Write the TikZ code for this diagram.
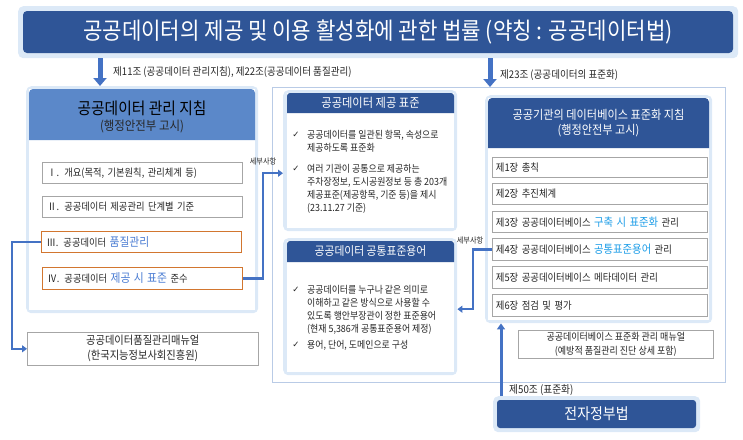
\documentclass[tikz,border=0pt]{standalone}
\usepackage{fontspec}
\setmainfont[FakeStretch=0.9]{Noto Sans CJK KR}
\newfontfamily\chkfont{DejaVu Sans}
\usetikzlibrary{arrows.meta,calc}
\definecolor{dk}{HTML}{2F5597}
\definecolor{lh}{HTML}{5B88C9}
\definecolor{glow}{HTML}{DCE9F7}
\definecolor{arr}{HTML}{4472C4}
\definecolor{org}{HTML}{D2762F}
\definecolor{gry}{HTML}{A6A6A6}
\definecolor{contc}{HTML}{B9CBE6}
\definecolor{hl}{HTML}{4A7CD3}
\definecolor{hc}{HTML}{1C9DE8}
\definecolor{txt}{HTML}{262626}
\newcommand\fsz[2]{\fontsize{#1}{#2}\selectfont}
\tikzset{
  glowbox/.style={fill=glow, rounded corners=5pt, inner sep=0pt, anchor=north west},
  itembox/.style={draw=gry, fill=white, line width=0.8pt, anchor=north west, inner xsep=5pt, inner ysep=0pt,
    minimum height=21pt, text width=#1, align=left, font=\fsz{10.3}{12}, text=txt},
  ritem/.style={itembox=#1, inner xsep=3.5pt, font=\fsz{10.4}{12}},
  manbox/.style={draw=gry, fill=white, line width=0.6pt, anchor=north west, inner sep=0pt, align=center, text=txt},
  bul/.style={anchor=north west, align=left, inner sep=0pt, font=\fsz{9.9}{13}, text=txt},
  chk/.style={inner sep=0pt, font=\chkfont\fsz{8.5}{10}, text=txt},
  lbl/.style={inner sep=0pt, font=\fsz{10.6}{12}, text=txt},
  smalllbl/.style={inner sep=0pt, font=\fsz{8}{10}, text=txt},
  bigarr/.style={draw=arr, line width=5pt, -{Triangle[width=13pt,length=8pt]}},
  conn/.style={draw=arr, line width=2.5pt, -{Triangle[width=7pt,length=5pt]}},
  uparr/.style={draw=arr, line width=3pt, -{Triangle[width=8pt,length=6pt]}},
}
\begin{document}
\begin{tikzpicture}[x=1pt,y=-1pt]
\useasboundingbox (0,0) rectangle (743,439);
% banner
\node[glowbox, minimum width=720pt, minimum height=52pt] (banner) at (18,6) {};
\fill[dk, rounded corners=4pt] (23,11) rectangle (733,53);
\node[text=white, font=\fsz{23.5}{26}] (title) at (378,32) {공공데이터의 제공 및 이용 활성화에 관한 법률 (약칭 : 공공데이터법)};
% container
\node[draw=contc, line width=0.8pt, minimum width=453pt, minimum height=295pt, anchor=north west, inner sep=0pt] (cont) at (272,87) {};
% left box
\node[glowbox, minimum width=232pt, minimum height=227pt] (lbox) at (26,86) {};
\fill[white] (29,89) rectangle (255,310);
\fill[lh] (29,140) [rounded corners=4pt] -- (29,89) -- (255,89) [sharp corners] -- (255,140) -- cycle;
\node[font=\fsz{16.4}{18}, text=black] (lhead) at (142,108) {공공데이터 관리 지침};
\node[font=\fsz{12.7}{14}, text=txt] (lsub) at (142,126) {(행정안전부 고시)};
\node[itembox=190pt] (li1) at (42,162) {Ⅰ. 개요(목적, 기본원칙, 관리체계 등)};
\node[itembox=190pt] (li2) at (42,196) {Ⅱ. 공공데이터 제공관리 단계별 기준};
\node[itembox=190pt, draw=org, line width=1pt] (li3) at (41,231) {Ⅲ. 공공데이터 {\color{hl}\fsz{12}{12}품질관리}};
\node[itembox=190pt, draw=org, line width=1pt, minimum height=22pt] (li4) at (42,267) {Ⅳ. 공공데이터 {\color{hl}\fsz{12}{12}제공 시 표준} 준수};
\node[manbox, minimum width=231pt, minimum height=33pt, font=\fsz{11.4}{15}] (lman) at (27,332) {공공데이터품질관리매뉴얼\\(한국지능정보사회진흥원)};
% middle top
\node[glowbox, minimum width=174pt, minimum height=141pt] (mtop) at (283,90) {};
\fill[white] (287,93) rectangle (454,228);
\fill[dk] (287,113) [rounded corners=3pt] -- (287,93) -- (454,93) [sharp corners] -- (454,113) -- cycle;
\node[text=white, font=\fsz{12.5}{15}] (mthead) at (370.5,103) {공공데이터 제공 표준};
\node[chk] (c1) at (296,135) {✓};
\node[bul] (b1) at (307,130) {공공데이터를 일관된 항목, 속성으로\\제공하도록 표준화};
\node[chk] (c2) at (296,169) {✓};
\node[bul] (b2) at (307,164) {여러 기관이 공통으로 제공하는\\주차장정보, 도시공원정보 등 총 203개\\제공표준(제공항목, 기준 등)을 제시\\(23.11.27 기준)};
% middle bottom
\node[glowbox, minimum width=174pt, minimum height=137pt] (mbot) at (283,238) {};
\fill[white] (287,241) rectangle (454,372);
\fill[dk] (287,262) [rounded corners=3pt] -- (287,241) -- (454,241) [sharp corners] -- (454,262) -- cycle;
\node[text=white, font=\fsz{12}{15}] (mbhead) at (370.5,251.5) {공공데이터 공통표준용어};
\node[chk] (c3) at (296,290) {✓};
\node[bul] (b3) at (307,285) {공공데이터를 누구나 같은 의미로\\이해하고 같은 방식으로 사용할 수\\있도록 행안부장관이 정한 표준용어\\(현재 5,386개 공통표준용어 제정)};
\node[chk] (c4) at (296,345) {✓};
\node[bul] (b4) at (307,340) {용어, 단어, 도메인으로 구성};
% right box
\node[glowbox, minimum width=227pt, minimum height=228pt] (rbox) at (485,95) {};
\fill[white] (488,98) rectangle (709,320);
\fill[dk] (488,148) [rounded corners=4pt] -- (488,98) -- (709,98) [sharp corners] -- (709,148) -- cycle;
\node[text=white, font=\fsz{12.4}{15}, align=center] (rhead) at (598.5,123) {공공기관의 데이터베이스 표준화 지침\\(행정안전부 고시)};
\node[ritem=208pt, minimum height=20pt] (r1) at (492,157) {제1장 총칙};
\node[ritem=208pt] (r2) at (492,183) {제2장 추진체계};
\node[ritem=208pt] (r3) at (492,211) {제3장 공공데이터베이스 {\color{hc}\fsz{11.5}{12}구축 시 표준화} 관리};
\node[ritem=208pt, minimum height=22pt] (r4) at (492,238) {제4장 공공데이터베이스 {\color{hc}\fsz{11.5}{12}공통표준용어} 관리};
\node[ritem=208pt, minimum height=22pt] (r5) at (492,266) {제5장 공공데이터베이스 메타데이터 관리};
\node[ritem=208pt, minimum height=22pt] (r6) at (492,294) {제6장 점검 및 평가};
\node[manbox, minimum width=195pt, minimum height=28pt, font=\fsz{10}{14}] (rman) at (518,330) {공공데이터베이스 표준화 관리 매뉴얼\\(예방적 품질관리 진단 상세 포함)};
% egov
\node[glowbox, minimum width=207pt, minimum height=36pt] (egov) at (493,396) {};
\fill[dk, rounded corners=3pt] (497,400) rectangle (696,428);
\node[text=white, font=\fsz{15.5}{18}] (egovt) at (596.5,414) {전자정부법};
% arrows
\coordinate (a1) at (100,58);
\draw[bigarr] (a1) -- (a1 |- lbox.north);
\node[lbl, anchor=west] (l1) at (113,72) {제11조 (공공데이터 관리지침), 제22조(공공데이터 품질관리)};
\coordinate (a2) at (490,58);
\draw[bigarr] (a2) -- (a2 |- cont.north);
\node[lbl, anchor=west] (l2) at (500,75) {제23조 (공공데이터의 표준화)};
\draw[conn] (li4.east) -- ++(20,0) |- ([yshift=-12.5pt]mtop.west);
\node[smalllbl] (s1) at (263,161) {세부사항};
\draw[conn] (li3.west) -- ++(-29,0) |- (lman.west);
\draw[conn] (r4.west) -- ++(-19,0) |- ([yshift=-2.5pt]mbot.east);
\node[smalllbl] (s2) at (470,240) {세부사항};
\coordinate (a3) at (501,0);
\draw[uparr] (egov.north -| a3) -- (rbox.south -| a3);
\node[lbl, anchor=west, font=\fsz{10.8}{12}] (l3) at (509,390) {제50조 (표준화)};
\end{tikzpicture}
\end{document}
